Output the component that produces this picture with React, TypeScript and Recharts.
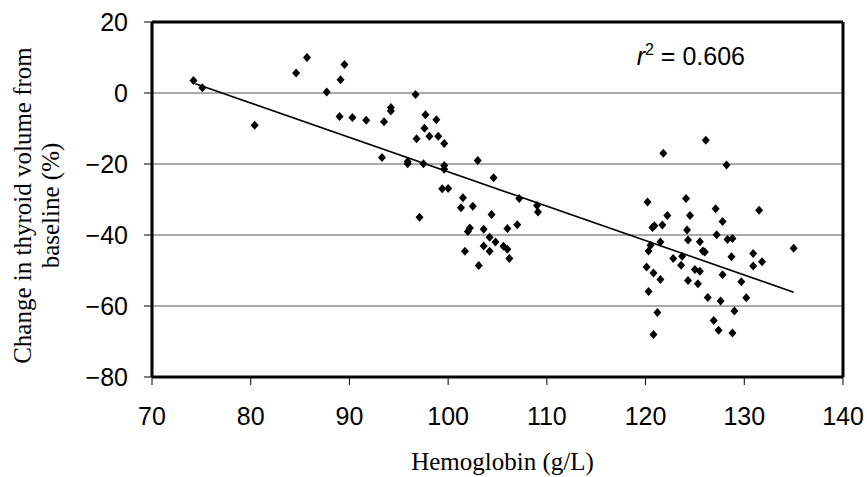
import React from 'react';
import {
    ScatterChart,
    Scatter,
    XAxis,
    YAxis,
    CartesianGrid,
    ReferenceLine,
    ReferenceDot,
    Label,
} from 'recharts';

// hemoglobin (g/L) and change in thyroid volume (%)
const hemoglobin = [
    74.2, 75.1, 80.4, 84.6, 85.7, 89.5, 89.1, 87.7, 89.0, 90.3, 91.7, 93.5, 94.2, 94.2, 93.3,
    96.7, 97.7, 98.8, 97.6, 96.8, 98.1, 99.0, 99.6, 95.9, 95.9, 97.5, 99.6, 99.6, 103.0, 104.6,
    99.4, 100.0, 101.5, 101.3, 102.5, 97.1, 104.4, 107.2, 109.0, 109.1, 102.2, 102.0, 103.6, 106.0,
    107.0, 104.2, 104.8, 105.6, 106.0, 103.6, 104.2, 101.7, 106.2, 103.1,
    126.1, 121.8, 128.2, 120.2, 124.1, 127.1, 131.5, 122.2, 124.5, 127.8, 120.7, 120.9, 121.7,
    124.2, 127.2, 128.3, 128.8, 124.3, 125.5, 121.5, 120.5, 120.3, 125.8, 126.0, 135.0, 122.8,
    123.7, 128.7, 130.9, 131.8, 130.9, 120.1, 123.6, 125.0, 125.5, 120.8, 121.5, 127.8, 124.3,
    125.3, 129.7, 120.3, 126.3, 127.6, 130.2, 121.2, 129.0, 126.9, 127.4, 128.8, 120.8,
];

const volumeChange = [
    3.5, 1.5, -9.1, 5.6, 10, 8, 3.7, 0.3, -6.6, -6.9, -7.7, -8.1, -4.1, -5.1, -18.2,
    -0.4, -6.1, -7.5, -9.9, -12.9, -12.2, -12.2, -14.2, -19.3, -19.9, -19.9, -20.4, -21.5, -19.0, -23.9,
    -27.0, -26.9, -29.5, -32.3, -31.9, -35.0, -34.2, -29.7, -31.7, -33.5, -38.0, -39.0, -38.4, -38.2,
    -37.1, -40.6, -42.0, -43.2, -44.0, -43.1, -44.6, -44.6, -46.6, -48.6,
    -13.3, -17.0, -20.3, -30.7, -29.7, -32.6, -33.0, -34.5, -34.5, -36.2, -37.9, -37.4, -37.2,
    -38.6, -39.9, -41.3, -41.0, -41.4, -41.9, -42.0, -42.9, -44.5, -44.5, -44.8, -43.7, -46.6,
    -46.0, -46.1, -45.2, -47.5, -48.7, -49.0, -48.5, -49.7, -50.2, -50.7, -52.5, -51.2, -52.8,
    -53.7, -53.2, -55.9, -57.6, -58.6, -57.7, -61.8, -61.4, -64.1, -66.8, -67.6, -68.0,
];

// fitted line end points
const trendX = [74.4, 135.0];
const trendY = [2.6, -56.1];

const xTicks = [70, 80, 90, 100, 110, 120, 130, 140];
const yTicks = [-80, -60, -40, -20, 0, 20];

const points = hemoglobin.map((hb, i) => ({ hb, change: volumeChange[i] }));

const SANS = '"Liberation Sans", Arial, sans-serif';
const SERIF = '"Liberation Serif", "Times New Roman", serif';

const fmt = (v: number) => String(v).replace('-', '\u2212');

const Diamond = ({ cx, cy }: any) => (
    <polygon
        points={`${cx},${cy - 4.5} ${cx + 4},${cy} ${cx},${cy + 4.5} ${cx - 4},${cy}`}
        fill="#000"
    />
);

const YTitle = ({ viewBox }: any) => {
    const cy = viewBox.y + viewBox.height / 2 + 6;
    return (
        <text
            transform={`rotate(-90, 0, ${cy})`}
            x={0}
            y={cy}
            textAnchor="middle"
            fontFamily={SERIF}
            fontSize={25}
            fill="#000"
        >
            <tspan x={0} dy={31}>Change in thyroid volume from</tspan>
            <tspan x={0} dy={28}>baseline (%)</tspan>
        </text>
    );
};

const XTitle = ({ viewBox }: any) => (
    <text
        x={viewBox.x + viewBox.width / 2 + 5}
        y={470}
        textAnchor="middle"
        fontFamily={SERIF}
        fontSize={25}
        fill="#000"
    >
        Hemoglobin (g/L)
    </text>
);

const R2Label = ({ viewBox }: any) => (
    <text x={viewBox.x} y={viewBox.y} fontFamily={SANS} fontSize={25} fill="#000">
        <tspan fontStyle="italic">r</tspan>
        <tspan dy={-10} fontSize={16}>2</tspan>
        <tspan dy={10}> = 0.606</tspan>
    </text>
);

export default function App() {
    return (
        <div style={{ position: 'absolute', left: 0, top: 0, width: 867, height: 477, background: '#fff' }}>
            <ScatterChart width={867} height={477} margin={{ top: 22, right: 24, left: 0, bottom: 0 }}>
                <CartesianGrid vertical={false} stroke="#555" strokeWidth={1} />
                <XAxis
                    type="number"
                    dataKey="hb"
                    domain={[70, 140]}
                    ticks={xTicks}
                    height={100}
                    tickSize={8}
                    tickMargin={22}
                    axisLine={{ stroke: '#000', strokeWidth: 3 }}
                    tickLine={{ stroke: '#000' }}
                    tick={{ fill: '#000', fontSize: 25, fontFamily: SANS }}
                    interval={0}
                >
                    <Label content={<XTitle />} />
                </XAxis>
                <YAxis
                    type="number"
                    dataKey="change"
                    domain={[-80, 20]}
                    ticks={yTicks}
                    width={152}
                    tickSize={8}
                    tickMargin={16}
                    tickFormatter={fmt}
                    axisLine={{ stroke: '#000', strokeWidth: 3 }}
                    tickLine={{ stroke: '#000' }}
                    tick={{ fill: '#000', fontSize: 25, fontFamily: SANS }}
                    interval={0}
                >
                    <Label content={<YTitle />} />
                </YAxis>
                <ReferenceLine y={20} stroke="#000" strokeWidth={3} />
                <ReferenceLine x={140} stroke="#000" strokeWidth={3} />
                <ReferenceLine
                    segment={[
                        { x: trendX[0], y: trendY[0] },
                        { x: trendX[1], y: trendY[1] },
                    ]}
                    stroke="#000"
                    strokeWidth={1.6}
                />
                <Scatter data={points} shape={<Diamond />} isAnimationActive={false} />
                <ReferenceDot
                    x={119.2}
                    y={7.5}
                    r={1}
                    fill="none"
                    stroke="none"
                    label={<R2Label />}
                />
            </ScatterChart>
        </div>
    );
}
